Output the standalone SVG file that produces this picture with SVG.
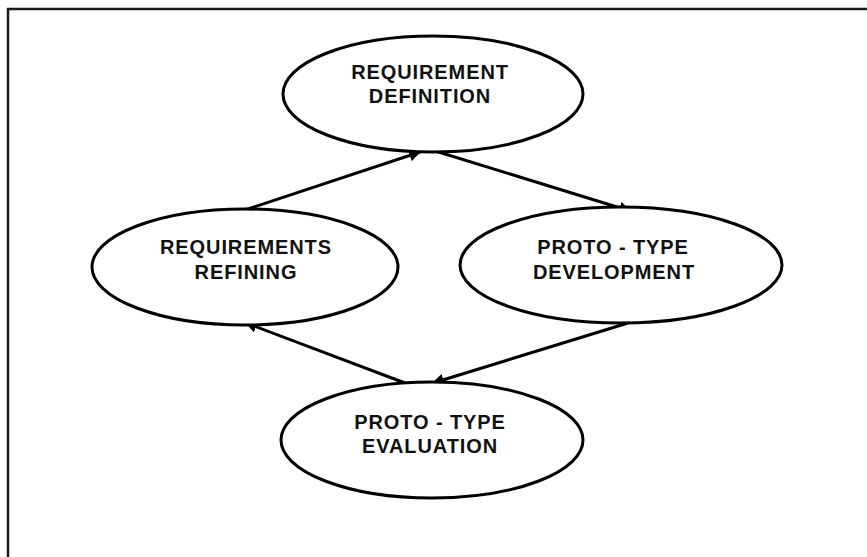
<svg xmlns="http://www.w3.org/2000/svg" width="867" height="557" viewBox="0 0 867 557">
<defs>
<style>
.node ellipse{fill:#fff;stroke:#000;stroke-width:3}
.node text{font-family:"Liberation Sans",Arial,sans-serif;font-weight:bold;font-size:20px;letter-spacing:0.9px;text-anchor:middle;fill:#111}
.conn line{stroke:#000;stroke-width:3;marker-end:url(#ah)}
</style>
<marker id="ah" viewBox="0 0 10 10" refX="9" refY="5" markerWidth="4" markerHeight="4" orient="auto" markerUnits="strokeWidth">
<path d="M0,0 L10,5 L0,10 z" fill="#000"/>
</marker>
</defs>
<rect x="0" y="0" width="867" height="557" fill="#fff"/>
<rect x="8" y="9" width="900" height="600" fill="none" stroke="#1a1a1a" stroke-width="2.5"/>
<g id="connectors" class="conn">
<line x1="245" y1="210" x2="420" y2="152"/>
<line x1="432" y1="150" x2="630" y2="211"/>
<line x1="628" y1="323" x2="433" y2="383"/>
<line x1="405" y1="383" x2="246" y2="323"/>
</g>
<g id="req-def" class="node">
<ellipse cx="433" cy="94" rx="150" ry="58"/>
<text x="430" y="79">REQUIREMENT</text>
<text x="430" y="103">DEFINITION</text>
</g>
<g id="req-ref" class="node">
<ellipse cx="245" cy="267" rx="153" ry="58"/>
<text x="246" y="254">REQUIREMENTS</text>
<text x="246" y="279">REFINING</text>
</g>
<g id="proto-dev" class="node">
<ellipse cx="621" cy="265" rx="161" ry="58"/>
<text x="613" y="254">PROTO - TYPE</text>
<text x="614" y="279">DEVELOPMENT</text>
</g>
<g id="proto-eval" class="node">
<ellipse cx="432" cy="440" rx="151" ry="58"/>
<text x="430" y="429">PROTO - TYPE</text>
<text x="430" y="453">EVALUATION</text>
</g>
</svg>
